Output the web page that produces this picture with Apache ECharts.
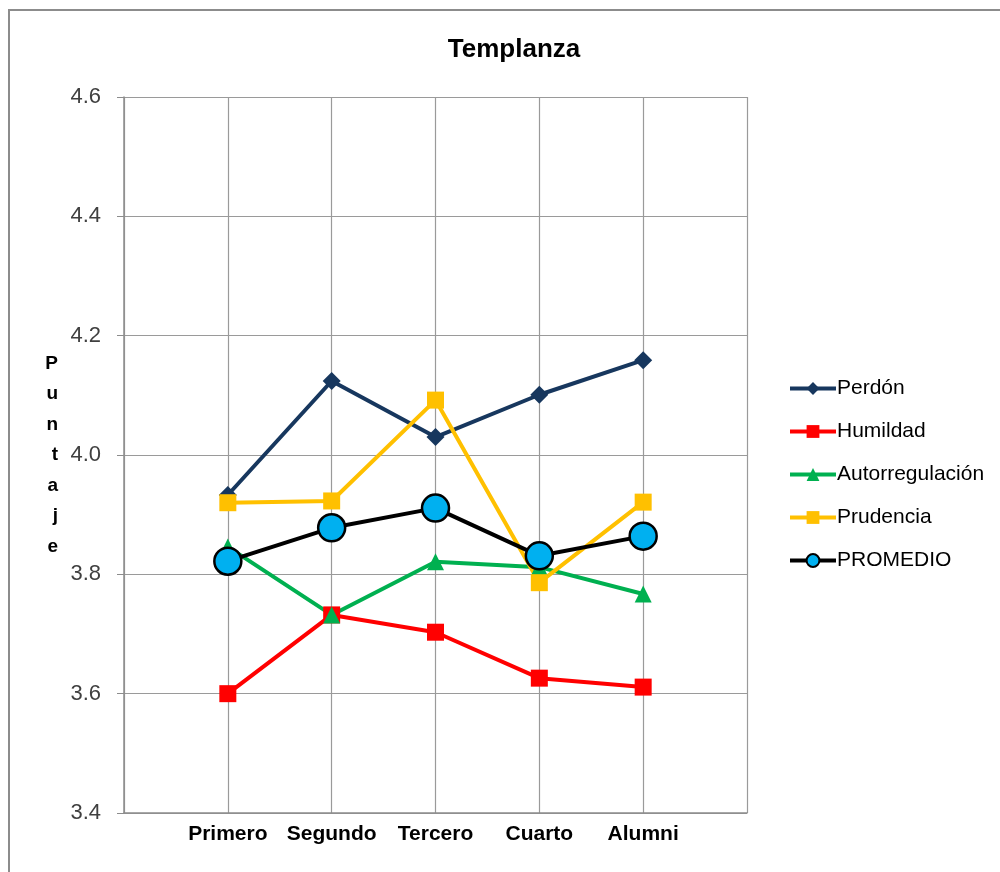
<!DOCTYPE html>
<html>
<head>
<meta charset="utf-8">
<script src="https://cdn.jsdelivr.net/npm/echarts@6/dist/echarts.min.js"></script>
<style>html,body{margin:0;padding:0;background:#fff}#c{width:1000px;height:872px}</style>
</head>
<body>
<div id="c"></div>
<script>
const categories = ['Primero', 'Segundo', 'Tercero', 'Cuarto', 'Alumni'];
const perdon = [3.933, 4.124, 4.030, 4.101, 4.159];
const humildad = [3.600, 3.732, 3.703, 3.626, 3.611];
const autorregulacion = [3.846, 3.732, 3.821, 3.812, 3.767];
const prudencia = [3.920, 3.923, 4.092, 3.786, 3.921];
const promedio = [3.822, 3.878, 3.911, 3.831, 3.864];
const yTicks = [3.4, 3.6, 3.8, 4.0, 4.2, 4.4, 4.6];

const narrow = "'Liberation Sans Narrow', 'Arial Narrow', 'Liberation Sans', sans-serif";
const toXY = arr => arr.map((v, i) => [i + 1, v]);

function mk(name, data, color, symbol, size, extra) {
  return Object.assign({
    name, type: 'line', data: toXY(data),
    symbol, symbolSize: size,
    lineStyle: { color, width: 4 },
    itemStyle: { color },
    emphasis: { disabled: true },
    animation: false
  }, extra || {});
}

const chart = echarts.init(document.getElementById('c'));
chart.setOption({
  animation: false,
  graphic: [{
    type: 'rect', shape: { x: 9, y: 10, width: 1000, height: 900 },
    style: { fill: 'none', stroke: '#8c8c8c', lineWidth: 2 }, silent: true, z: -1
  }],
  title: {
    text: 'Templanza', left: 509, top: 32, textAlign: 'center',
    textStyle: { fontFamily: narrow, fontWeight: 'bold', fontSize: 26, color: '#000' }
  },
  grid: { left: 124, right: 253, top: 97, bottom: 59 },
  xAxis: {
    type: 'value', min: 0, max: 6, interval: 1,
    axisLine: { show: true, lineStyle: { color: '#8c8c8c', width: 1.5 } },
    axisTick: { show: false },
    splitLine: { show: true, lineStyle: { color: '#9a9a9a', width: 1.2 } },
    axisLabel: {
      formatter: v => categories[v - 1] || '',
      fontFamily: narrow, fontWeight: 'bold', fontSize: 21, color: '#000', margin: 11
    }
  },
  yAxis: {
    type: 'value', min: 3.4, max: 4.6, interval: 0.2,
    name: 'P\nu\nn\nt\na\nj\ne', nameLocation: 'middle', nameRotate: 0, nameGap: 66,
    nameTextStyle: { fontFamily: "'Liberation Sans', Arial, sans-serif", fontWeight: 'bold', fontSize: 19, lineHeight: 30.5, color: '#000', padding: [10, 0, 0, 0] },
    axisLine: { show: true, lineStyle: { color: '#8c8c8c', width: 1.5 } },
    axisTick: { show: true, inside: false, length: 7, lineStyle: { color: '#8c8c8c' } },
    splitLine: { show: true, lineStyle: { color: '#9a9a9a', width: 1.2 } },
    axisLabel: {
      formatter: v => { const t = yTicks.find(k => Math.abs(k - v) < 1e-6); return t !== undefined ? t.toFixed(1) : ''; },
      fontFamily: narrow, fontSize: 22, color: '#404040', margin: 23
    }
  },
  legend: {
    orient: 'vertical', left: 783, top: 373, itemWidth: 46, itemHeight: 16, itemGap: 22,
    lineStyle: { width: 4 },
    textStyle: { fontFamily: "'Liberation Sans', Arial, sans-serif", fontSize: 21, color: '#000', padding: [0, 0, 0, -4] },
    data: ['Perdón', 'Humildad', 'Autorregulación', 'Prudencia', 'PROMEDIO']
  },
  series: [
    mk('Perdón', perdon, '#17375E', 'diamond', 18),
    mk('Humildad', humildad, '#FF0000', 'rect', 17),
    mk('Autorregulación', autorregulacion, '#00B050', 'triangle', 17),
    mk('Prudencia', prudencia, '#FFC000', 'rect', 17),
    mk('PROMEDIO', promedio, '#000000', 'circle', 27, {
      itemStyle: { color: '#00B0F0', borderColor: '#000', borderWidth: 2.5 }
    })
  ]
});
</script>
</body>
</html>
